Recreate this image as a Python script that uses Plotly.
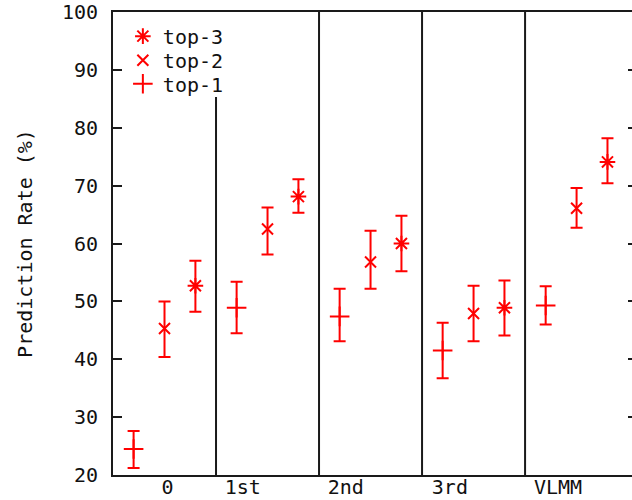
import plotly.graph_objects as go

categories = ["0", "1st", "2nd", "3rd", "VLMM"]
label_pos = [0.53, 1.26, 2.26, 3.27, 4.32]
separators = [1, 2, 3, 4]
separator_tops = [85.3, 100, 100, 100]

series_names = ["top-1", "top-2", "top-3"]
offsets = [0.2, 0.5, 0.8]

top1 = [24.5, 48.9, 47.4, 41.5, 49.3]
top1_hi = [27.6, 53.4, 52.2, 46.3, 52.6]
top1_lo = [21.2, 44.5, 43.1, 36.7, 46.0]

top2 = [45.3, 62.5, 56.8, 47.9, 66.1]
top2_hi = [50.0, 66.2, 62.2, 52.7, 69.6]
top2_lo = [40.4, 58.1, 52.2, 43.1, 62.7]

top3 = [52.7, 68.1, 60.0, 48.9, 74.1]
top3_hi = [57.0, 71.1, 64.8, 53.6, 78.2]
top3_lo = [48.2, 65.3, 55.2, 44.1, 70.4]

symbols = ["cross-thin", "x-thin", "asterisk"]
marker_sizes = [14, 11, 13]
legend_ids = ["legend3", "legend2", "legend"]
RED = "#ff0000"
FONT = "DejaVu Sans Mono"

fig = go.Figure()
for name, vals, hi, lo, off, sym, ms, lg in zip(
    series_names, [top1, top2, top3], [top1_hi, top2_hi, top3_hi],
    [top1_lo, top2_lo, top3_lo], offsets, symbols, marker_sizes, legend_ids):
    xs = [i + off for i in range(len(categories))]
    fig.add_trace(go.Scatter(
        x=xs, y=vals, mode="markers", name=name, legend=lg,
        marker=dict(symbol=sym, size=ms, color=RED, line=dict(color=RED, width=2)),
        error_y=dict(type="data", symmetric=False,
                     array=[h - v for h, v in zip(hi, vals)],
                     arrayminus=[v - l for v, l in zip(vals, lo)],
                     color=RED, thickness=2, width=6),
    ))

# invisible trace for the right-side tick axis
fig.add_trace(go.Scatter(x=[0], y=[50], yaxis="y2", mode="markers",
                         marker=dict(opacity=0), showlegend=False, hoverinfo="skip"))

for sx, top in zip(separators, separator_tops):
    fig.add_shape(type="line", x0=sx, x1=sx, y0=20, y1=top, xref="x", yref="y",
                  line=dict(color="#1a1a1a", width=2))

leg_common = dict(x=0.019, xanchor="left", yanchor="top",
                  bgcolor="rgba(0,0,0,0)", font=dict(family=FONT, size=20, color="#111"))

fig.update_layout(
    width=632, height=500,
    margin=dict(l=113, r=0, t=12, b=25),
    paper_bgcolor="white", plot_bgcolor="white",
    font=dict(family=FONT, size=20, color="#111"),
    showlegend=True,
    legend=dict(y=0.990, **leg_common),
    legend2=dict(y=0.938, **leg_common),
    legend3=dict(y=0.887, **leg_common),
    xaxis=dict(range=[0, 5.038], tickmode="array", tickvals=label_pos,
               ticktext=categories, ticks="", showgrid=False, zeroline=False,
               showline=True, linecolor="#1a1a1a", linewidth=2, mirror=True,
               automargin=False, ticklabelstandoff=-7),
    yaxis=dict(range=[20, 100], dtick=10, ticks="inside", ticklen=9,
               tickcolor="#1a1a1a", tickwidth=2, showgrid=False, zeroline=False,
               showline=True, linecolor="#1a1a1a", linewidth=2,
               automargin=True, ticklabelstandoff=9,
               title=dict(text="Prediction Rate (%)", font=dict(size=20), standoff=24)),
    yaxis2=dict(range=[20, 100], dtick=10, overlaying="y", side="right",
                anchor="x", ticks="inside", ticklen=4, tickcolor="#1a1a1a",
                tickwidth=2, showticklabels=False, showgrid=False,
                zeroline=False, showline=False),
)

fig.write_html("out.html")
